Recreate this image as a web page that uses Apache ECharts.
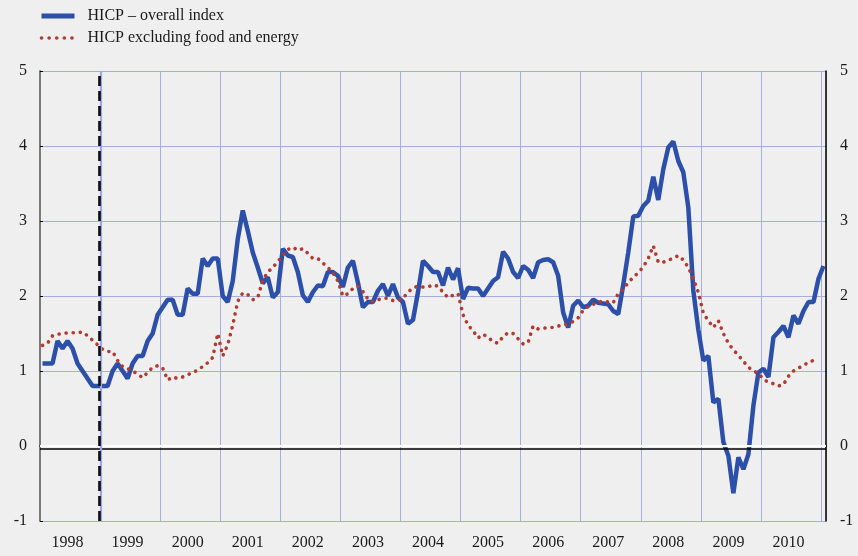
<!DOCTYPE html>
<html>
<head>
<meta charset="utf-8">
<script src="https://cdn.jsdelivr.net/npm/echarts@6/dist/echarts.min.js"></script>
<style>
  html, body { margin: 0; padding: 0; background: #efefef; }
  #chart { width: 858px; height: 556px; }
</style>
</head>
<body>
<div id="chart"></div>
<script>
// monthly categories Jan 1998 .. Jan 2011
var months = [];
for (var y = 1998; y <= 2010; y++) {
  for (var m = 1; m <= 12; m++) {
    months.push(y + '-' + (m < 10 ? '0' + m : m));
  }
}
months.push('2011-01');

// HICP - overall index (annual % change)
var hicpAll = [
  1.1, 1.1, 1.1, 1.4, 1.3, 1.4, 1.3, 1.1, 1.0, 0.9, 0.8, 0.8,         // 1998
  0.8, 0.8, 1.0, 1.1, 1.0, 0.9, 1.1, 1.2, 1.2, 1.4, 1.5, 1.75,        // 1999
  1.85, 1.95, 1.95, 1.75, 1.75, 2.1, 2.03, 2.03, 2.5, 2.4, 2.5, 2.5,  // 2000
  2.0, 1.92, 2.2, 2.76, 3.14, 2.87, 2.58, 2.38, 2.17, 2.25, 1.98, 2.05, // 2001
  2.63, 2.54, 2.52, 2.32, 2.01, 1.92, 2.05, 2.14, 2.13, 2.32, 2.32, 2.27, // 2002
  2.12, 2.38, 2.47, 2.18, 1.85, 1.92, 1.92, 2.07, 2.16, 2.0, 2.16, 1.98,  // 2003
  1.92, 1.63, 1.68, 2.05, 2.47, 2.4, 2.32, 2.32, 2.14, 2.38, 2.22, 2.37,  // 2004
  1.96, 2.11, 2.1, 2.1, 2.0, 2.1, 2.2, 2.25, 2.59, 2.5, 2.32, 2.24,       // 2005
  2.4, 2.35, 2.24, 2.45, 2.48, 2.49, 2.45, 2.27, 1.78, 1.58, 1.87, 1.94,  // 2006
  1.85, 1.87, 1.95, 1.91, 1.9, 1.89, 1.8, 1.76, 2.15, 2.58, 3.06, 3.07,   // 2007
  3.2, 3.27, 3.59, 3.28, 3.69, 3.98, 4.06, 3.8, 3.65, 3.18, 2.07, 1.55,   // 2008
  1.14, 1.2, 0.58, 0.63, 0.05, -0.13, -0.63, -0.15, -0.31, -0.11, 0.54, 0.98, // 2009
  1.03, 0.92, 1.45, 1.52, 1.6, 1.45, 1.74, 1.63, 1.8, 1.92, 1.92, 2.23,  // 2010
  2.4                                                                    // 2011
];

// HICP excluding food and energy
var hicpCore = [
  1.34, 1.37, 1.47, 1.49, 1.5, 1.51, 1.51, 1.51, 1.52, 1.47, 1.41, 1.35,  // 1998
  1.29, 1.26, 1.26, 1.14, 1.06, 1.03, 1.0, 0.96, 0.91, 0.98, 1.05, 1.07,  // 1999
  1.04, 0.88, 0.92, 0.9, 0.92, 0.95, 0.98, 1.01, 1.06, 1.11, 1.18, 1.5,   // 2000
  1.2, 1.35, 1.61, 1.93, 2.04, 2.02, 1.95, 1.98, 2.21, 2.32, 2.38, 2.46,  // 2001
  2.54, 2.62, 2.65, 2.61, 2.63, 2.57, 2.5, 2.5, 2.44, 2.38, 2.31, 2.2,    // 2002
  2.0, 2.03, 2.1, 2.13, 2.06, 1.96, 1.92, 1.95, 1.97, 1.97, 1.94, 1.94,   // 2003
  1.97, 2.05, 2.11, 2.13, 2.12, 2.12, 2.15, 2.13, 2.05, 1.98, 2.01, 2.03, // 2004
  1.75, 1.61, 1.54, 1.44, 1.49, 1.45, 1.39, 1.37, 1.46, 1.51, 1.5, 1.43,  // 2005
  1.36, 1.38, 1.6, 1.56, 1.57, 1.58, 1.58, 1.6, 1.61, 1.63, 1.66, 1.71,   // 2006
  1.81, 1.86, 1.89, 1.92, 1.93, 1.92, 1.91, 2.03, 2.09, 2.18, 2.25, 2.31, // 2007
  2.39, 2.5, 2.67, 2.45, 2.45, 2.48, 2.5, 2.54, 2.48, 2.38, 2.23, 2.05,   // 2008
  1.77, 1.67, 1.58, 1.67, 1.5, 1.37, 1.28, 1.21, 1.13, 1.05, 1.0, 0.97,   // 2009
  0.89, 0.85, 0.83, 0.8, 0.82, 0.93, 1.0, 1.04, 1.07, 1.12, 1.14          // 2010
];

var yTicks = [-1, 0, 1, 2, 3, 4, 5];

var serif = 'Liberation Serif';
var blue = '#2c4fa9';
var red = '#b33a30';
var chart = echarts.init(document.getElementById('chart'));

option = {
  backgroundColor: '#efefef',
  animation: false,
  legend: {
    orient: 'vertical',
    left: 34,
    top: 3,
    itemWidth: 33,
    itemHeight: 14,
    itemGap: 6,
    itemStyle: { opacity: 0 },
    data: [
      { name: 'HICP – overall index', lineStyle: { color: blue, width: 5, type: 'solid' } },
      { name: 'HICP excluding food and energy', lineStyle: { color: red, width: 3.6, type: [0.1, 7.5], cap: 'round' } }
    ],
    textStyle: { fontFamily: serif, fontSize: 16, color: '#1a1a1a', padding: [0, 0, 0, 8] }
  },
  grid: { left: 40, right: 32, top: 71, bottom: 35 },
  xAxis: [{
    type: 'category',
    data: months,
    boundaryGap: true,
    offset: 2,
    axisLine: { lineStyle: { color: '#000', width: 1.5 } },
    axisTick: {
      length: 5,
      interval: function (idx) { return idx % 12 === 0; },
      lineStyle: { color: '#000', width: 1.2 }
    },
    axisLabel: {
      interval: function (idx) { return idx % 12 === 5; },
      formatter: function (v) { return v.substring(0, 4); },
      fontFamily: serif, fontSize: 16, color: '#1a1a1a', margin: 12
    },
    splitLine: {
      show: true,
      interval: function (idx) { return idx % 12 === 0; },
      lineStyle: { color: '#a6aee0', width: 1 }
    }
  }, {
    type: 'value',
    min: 0,
    max: 157,
    show: false
  }],
  yAxis: [{
    type: 'value',
    min: yTicks[0],
    max: yTicks[yTicks.length - 1],
    interval: 1,
    axisLine: { show: true, lineStyle: { color: '#7a7a7a', width: 2 } },
    axisTick: { show: true, inside: true, length: 3, lineStyle: { color: '#000' } },
    axisLabel: { fontFamily: serif, fontSize: 16, color: '#1a1a1a', margin: 13 },
    splitLine: { lineStyle: { color: '#a6aee0', width: 1 } }
  }, {
    type: 'value',
    position: 'right',
    min: yTicks[0],
    max: yTicks[yTicks.length - 1],
    interval: 1,
    axisLine: { show: true, lineStyle: { color: '#000', width: 1.5 } },
    axisTick: { show: false },
    axisLabel: { fontFamily: serif, fontSize: 16, color: '#1a1a1a', margin: 14 },
    splitLine: { show: false }
  }],
  series: [
    {
      // zero line
      type: 'line',
      xAxisIndex: 1,
      yAxisIndex: 0,
      data: [],
      markLine: {
        silent: true,
        symbol: 'none',
        label: { show: false },
        data: [
          { yAxis: 0.01, lineStyle: { color: '#ffffff', width: 2, type: 'solid' } },
          { yAxis: -0.025, lineStyle: { color: '#000000', width: 1.5, type: 'solid' } }
        ]
      }
    },
    {
      name: 'HICP – overall index',
      type: 'line',
      data: hicpAll,
      showSymbol: false,
      symbol: 'none',
      lineStyle: { color: blue, width: 4.5 },
      itemStyle: { color: blue }
    },
    {
      name: 'HICP excluding food and energy',
      type: 'line',
      data: hicpCore,
      showSymbol: false,
      symbol: 'none',
      lineStyle: { color: red, width: 3.6, type: [0.1, 7], cap: 'round' },
      itemStyle: { color: red }
    },
    {
      // start of stage three of EMU
      type: 'line',
      xAxisIndex: 1,
      yAxisIndex: 0,
      data: [],
      markLine: {
        silent: true,
        symbol: 'none',
        label: { show: false },
        data: [
          { xAxis: 12.2, lineStyle: { color: '#9ea7e6', width: 2.2, type: 'solid' } },
          { xAxis: 11.75, lineStyle: { color: '#111111', width: 2.7, type: [10, 5] } }
        ]
      }
    }
  ]
};

chart.setOption(option);
</script>
</body>
</html>
